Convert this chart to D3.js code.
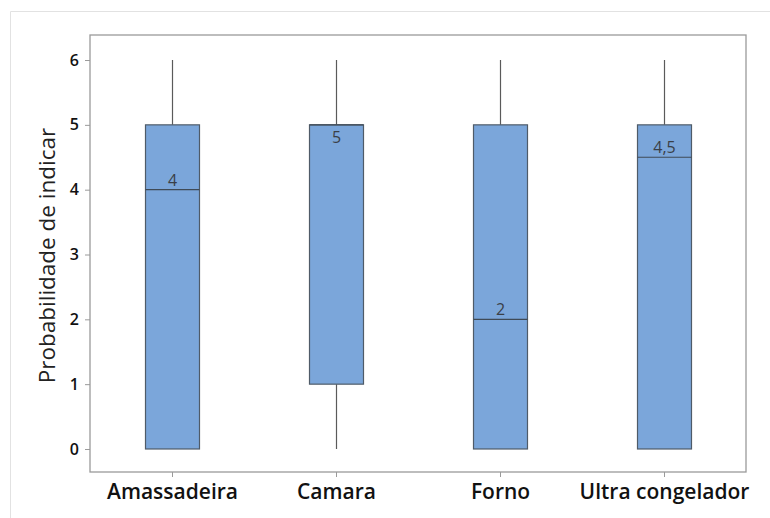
<!DOCTYPE html>
<html lang="en">
<head>
  <meta charset="UTF-8" />
  <title>Boxplot - Probabilidade de indicar</title>
  <script src="https://cdn.jsdelivr.net/npm/d3@7"></script>
  <style>
    html, body { margin: 0; padding: 0; background: #fff; overflow: hidden; }
    svg { display: block; }
  </style>
</head>
<body>
  <script>
    // Data
    const categories = ["Amassadeira", "Camara", "Forno", "Ultra congelador"];
    const minValues = [0, 0, 0, 0];
    const q1Values = [0, 1, 0, 0];
    const medianValues = [4, 5, 2, 4.5];
    const q3Values = [5, 5, 5, 5];
    const maxValues = [6, 6, 6, 6];
    const yTicks = [0, 1, 2, 3, 4, 5, 6];

    const width = 770, height = 518;
    const plot = { left: 90, right: 746, top: 35, bottom: 472 };

    const svg = d3.select("body").append("svg")
      .attr("width", width)
      .attr("height", height);

    // Light outer frame
    svg.append("path")
      .attr("d", `M10.5,${height} V11.5 H${width}`)
      .attr("fill", "none")
      .attr("stroke", "#e2e2e2")
      .attr("stroke-width", 1);

    const x = d3.scalePoint()
      .domain(categories)
      .range([plot.left, plot.right])
      .padding(0.5);

    const y = d3.scaleLinear()
      .domain([-0.355, 6.386])
      .range([plot.bottom, plot.top]);

    const boxWidth = 54;
    const fmt = v => String(v).replace(".", ",");

    const boxes = categories.map((c, i) => ({
      cat: c,
      min: minValues[i], q1: q1Values[i], med: medianValues[i],
      q3: q3Values[i], max: maxValues[i]
    }));

    const g = svg.append("g");
    boxes.forEach(b => {
      const cx = Math.round(x(b.cat)) + 0.5;
      // Whiskers
      if (b.max > b.q3) {
        g.append("line")
          .attr("x1", cx).attr("x2", cx)
          .attr("y1", y(b.q3)).attr("y2", y(b.max))
          .attr("stroke", "#5a5a5a").attr("stroke-width", 1.2);
      }
      if (b.min < b.q1) {
        g.append("line")
          .attr("x1", cx).attr("x2", cx)
          .attr("y1", y(b.q1)).attr("y2", y(b.min))
          .attr("stroke", "#5a5a5a").attr("stroke-width", 1.2);
      }
      // Box
      g.append("rect")
        .attr("x", cx - boxWidth / 2)
        .attr("y", y(b.q3))
        .attr("width", boxWidth)
        .attr("height", y(b.q1) - y(b.q3))
        .attr("fill", "#7ba6da")
        .attr("stroke", "#4f5b68")
        .attr("stroke-width", 1.2);
      // Median
      g.append("line")
        .attr("x1", cx - boxWidth / 2).attr("x2", cx + boxWidth / 2)
        .attr("y1", y(b.med)).attr("y2", y(b.med))
        .attr("stroke", "#3f4a56").attr("stroke-width", 1.2);
      // Median label: above the line, or below it when it sits on the box top
      const below = b.med >= b.q3;
      g.append("text")
        .attr("x", cx)
        .attr("y", below ? y(b.med) + 18 : y(b.med) - 4)
        .attr("text-anchor", "middle")
        .attr("font-family", "'Open Sans', sans-serif")
        .attr("font-size", 16)
        .attr("fill", "#3a3f47")
        .text(fmt(b.med));
    });

    // Plot frame
    svg.append("rect")
      .attr("x", plot.left)
      .attr("y", plot.top)
      .attr("width", plot.right - plot.left)
      .attr("height", plot.bottom - plot.top)
      .attr("fill", "none")
      .attr("stroke", "#9a9a9a")
      .attr("stroke-width", 1.3);

    // Axes
    const yAxis = svg.append("g")
      .attr("transform", `translate(${plot.left},0)`)
      .call(d3.axisLeft(y).tickValues(yTicks).tickFormat(d3.format("d")).tickSize(5).tickPadding(6));
    yAxis.select(".domain").remove();
    yAxis.selectAll(".tick line").attr("stroke", "#9a9a9a");
    yAxis.selectAll(".tick text")
      .attr("font-family", "'Open Sans', sans-serif")
      .attr("font-size", 16)
      .attr("font-weight", 600)
      .attr("fill", "#111");

    const xAxis = svg.append("g")
      .attr("transform", `translate(0,${plot.bottom})`)
      .call(d3.axisBottom(x).tickSize(5).tickPadding(7));
    xAxis.select(".domain").remove();
    xAxis.selectAll(".tick line").attr("stroke", "#9a9a9a");
    xAxis.selectAll(".tick text")
      .attr("font-family", "'Open Sans', sans-serif")
      .attr("font-size", 21)
      .attr("font-weight", 600)
      .attr("fill", "#111");

    // Y axis title
    svg.append("text")
      .attr("transform", `translate(55,${(plot.top + plot.bottom) / 2 + 2}) rotate(-90)`)
      .attr("text-anchor", "middle")
      .attr("font-family", "'Open Sans', sans-serif")
      .attr("font-size", 22.5)
      .attr("fill", "#222")
      .text("Probabilidade de indicar");
  </script>
</body>
</html>
